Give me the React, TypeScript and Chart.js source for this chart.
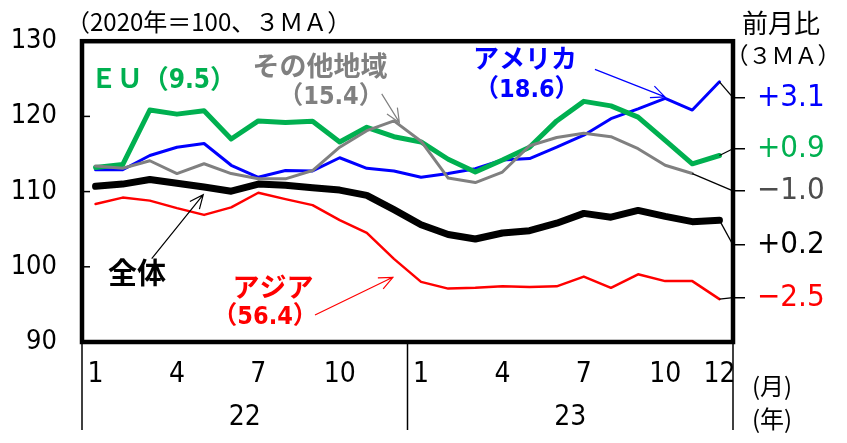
import React, { useEffect, useRef } from "react";
import { Chart, registerables } from "chart.js";

Chart.register(...registerables);

// ---- data ----
const months = [
  "2022-01", "2022-02", "2022-03", "2022-04", "2022-05", "2022-06",
  "2022-07", "2022-08", "2022-09", "2022-10", "2022-11", "2022-12",
  "2023-01", "2023-02", "2023-03", "2023-04", "2023-05", "2023-06",
  "2023-07", "2023-08", "2023-09", "2023-10", "2023-11", "2023-12",
];
const monthTickLabels = ["1", "", "", "4", "", "", "7", "", "", "10", "", "", "1", "", "", "4", "", "", "7", "", "", "10", "", "12"];
const yearLabels = ["22", "23"];

const total = [110.7, 111.0, 111.6, 111.1, 110.6, 110.05, 111.0, 110.85, 110.5, 110.2, 109.5, 107.6, 105.6, 104.3, 103.7, 104.5, 104.8, 105.8, 107.1, 106.6, 107.5, 106.7, 106.0, 106.2];
const asia = [108.35, 109.2, 108.8, 107.8, 106.9, 107.9, 109.85, 109.0, 108.2, 106.2, 104.5, 101.05, 98.0, 97.1, 97.2, 97.4, 97.3, 97.4, 98.7, 97.2, 99.0, 98.1, 98.1, 95.7];
const other = [113.4, 113.1, 114.1, 112.4, 113.7, 112.4, 111.7, 111.7, 112.8, 115.9, 118.1, 119.4, 116.7, 111.8, 111.2, 112.6, 116.1, 117.2, 117.75, 117.3, 115.7, 113.5, 112.4, null];
const eu = [113.2, 113.6, 120.85, 120.3, 120.75, 117.0, 119.4, 119.2, 119.35, 116.6, 118.55, 117.3, 116.6, 114.3, 112.6, 114.2, 115.9, 119.4, 122.0, 121.4, 119.9, 116.8, 113.7, 114.8];
const usa = [112.9, 112.9, 114.8, 115.9, 116.4, 113.5, 111.9, 112.8, 112.75, 114.5, 113.1, 112.75, 111.9, 112.4, 113.05, 114.2, 114.4, 115.9, 117.5, 119.7, 121.0, 122.4, 120.85, 124.6];

const leftTicks = [90, 100, 110, 120, 130];
const rightTickValues = [122.5, 115.7, 110.1, 102.9, 95.9];
const rightTickLabels = ["+3.1", "+0.9", "\u22121.0", "+0.2", "\u22122.5"];

// ---- styles ----
const GREEN = "#00B050";
const BLUE = "#0000FF";
const RED = "#FF0000";
const GRAY = "#808080";
const rightTickColors = [BLUE, GREEN, "#4D4D4D", "#000000", RED];

const NARROW = '"Liberation Sans Narrow", "DejaVu Sans", "Noto Sans CJK JP", sans-serif';
const JP = '"Noto Sans CJK JP", sans-serif';
const MIX = '"Liberation Sans Narrow", "DejaVu Sans", "Noto Sans CJK JP", sans-serif';

const seriesLabels = [
  { text: "ＥＵ（9.5）", i: 2.5, v: 124.7, color: GREEN, font: `bold condensed 26px ${MIX}` },
  { text: "その他地域", i: 8.27, v: 126.8, color: GRAY, font: `bold 27px ${JP}` },
  { text: "（15.4）", i: 8.68, v: 122.45, color: GRAY, font: `bold condensed 25px ${MIX}` },
  { text: "アメリカ", i: 15.83, v: 127.75, color: BLUE, font: `bold 26px ${JP}` },
  { text: "（18.6）", i: 15.9, v: 123.4, color: BLUE, font: `bold condensed 25px ${MIX}` },
  { text: "全体", i: 1.53, v: 99.14, color: "#000000", font: `bold 29px ${JP}` },
  { text: "アジア", i: 6.54, v: 97.4, color: RED, font: `bold 27px ${JP}` },
  { text: "（56.4）", i: 6.25, v: 93.2, color: RED, font: `bold condensed 25px ${MIX}` },
];

const arrows = [
  { from: [10.55, 123.0], to: [11.2, 119.2], color: GRAY },
  { from: [18.41, 126.25], to: [20.99, 122.6], color: BLUE },
  { from: [2.07, 101.1], to: [3.97, 109.6], color: "#000000" },
  { from: [8.09, 93.6], to: [10.96, 98.6], color: RED },
];

const leaderSeries = [usa, eu, other, total, asia];

function lastIndex(arr: (number | null)[]) {
  for (let k = arr.length - 1; k >= 0; k--) if (arr[k] !== null) return k;
  return -1;
}

const decorPlugin = {
  id: "decor",
  afterDraw(chart: any) {
    const ctx = chart.ctx as CanvasRenderingContext2D;
    const xs = chart.scales.x;
    const ys = chart.scales.y;
    const area = chart.chartArea;
    const px = (i: number) => xs.getPixelForValue(i);
    const py = (v: number) => ys.getPixelForValue(v);
    ctx.save();

    // leader lines from the last points to the right-axis ticks
    ctx.lineWidth = 1.3;
    ctx.strokeStyle = "#000";
    leaderSeries.forEach((s, k) => {
      const li = lastIndex(s);
      ctx.beginPath();
      ctx.moveTo(px(li), py(s[li] as number));
      ctx.lineTo(area.right, py(rightTickValues[k]));
      ctx.stroke();
    });

    // left inward tick marks
    ctx.lineWidth = 1.5;
    leftTicks.forEach((v) => {
      ctx.beginPath();
      ctx.moveTo(area.left, py(v));
      ctx.lineTo(area.left + 8, py(v));
      ctx.stroke();
    });

    // frame
    ctx.lineWidth = 4.5;
    ctx.strokeStyle = "#000";
    ctx.strokeRect(area.left, area.top, area.right - area.left, area.bottom - area.top);

    // year separators
    const mid = (px(11) + px(12)) / 2;
    ctx.lineWidth = 1.5;
    [area.left, mid, area.right].forEach((x) => {
      ctx.beginPath();
      ctx.moveTo(x, area.bottom);
      ctx.lineTo(x, area.bottom + 88);
      ctx.stroke();
    });

    // year labels
    ctx.fillStyle = "#000";
    ctx.textAlign = "center";
    ctx.textBaseline = "middle";
    ctx.font = `condensed 28px ${NARROW}`;
    ctx.fillText(yearLabels[0], (area.left + mid) / 2, area.bottom + 76);
    ctx.fillText(yearLabels[1], (mid + area.right) / 2, area.bottom + 76);

    // unit labels
    ctx.font = `24px ${JP}`;
    ctx.fillText("(月)", area.right + 39, area.bottom + 44);
    ctx.fillText("(年)", area.right + 39, area.bottom + 77);

    ctx.textAlign = "left";
    ctx.font = `24px ${JP}`;
    ctx.fillText("（2020年＝100、３ＭＡ）", area.left - 16, area.top - 19);
    ctx.textAlign = "center";
    ctx.font = `26px ${JP}`;
    ctx.fillText("前月比", area.right + 48, area.top - 18);
    ctx.font = `23px ${JP}`;
    ctx.fillText("（３ＭＡ）", area.right + 50, area.top + 14);

    // series labels
    seriesLabels.forEach((l) => {
      ctx.font = l.font;
      ctx.fillStyle = l.color;
      ctx.fillText(l.text, px(l.i), py(l.v));
    });

    // arrows
    arrows.forEach((a) => {
      const x0 = px(a.from[0]), y0 = py(a.from[1]);
      const x1 = px(a.to[0]), y1 = py(a.to[1]);
      const ang = Math.atan2(y1 - y0, x1 - x0);
      const hl = 15, ha = 0.42;
      ctx.strokeStyle = a.color;
      ctx.lineWidth = 1.2;
      ctx.beginPath();
      ctx.moveTo(x0, y0);
      ctx.lineTo(x1, y1);
      ctx.moveTo(x1 - hl * Math.cos(ang - ha), y1 - hl * Math.sin(ang - ha));
      ctx.lineTo(x1, y1);
      ctx.lineTo(x1 - hl * Math.cos(ang + ha), y1 - hl * Math.sin(ang + ha));
      ctx.stroke();
    });

    ctx.restore();
  },
};

export default function App() {
  const ref = useRef<HTMLCanvasElement | null>(null);
  useEffect(() => {
    if (!ref.current) return;
    const chart = new Chart(ref.current, {
      type: "line",
      data: {
        labels: months,
        datasets: [
          { label: "全体", data: total, borderColor: "#000", borderWidth: 7 },
          { label: "アジア", data: asia, borderColor: RED, borderWidth: 2.5 },
          { label: "その他地域", data: other, borderColor: GRAY, borderWidth: 3 },
          { label: "EU", data: eu, borderColor: GREEN, borderWidth: 5 },
          { label: "アメリカ", data: usa, borderColor: BLUE, borderWidth: 3 },
        ].map((d) => ({ ...d, pointRadius: 0, tension: 0, fill: false, borderJoinStyle: "round" as const, borderCapStyle: "round" as const })),
      },
      options: {
        animation: false,
        responsive: false,
        layout: { padding: { top: 40, left: 0, right: 0, bottom: 0 } },
        plugins: { legend: { display: false }, tooltip: { enabled: false } },
        scales: {
          x: {
            type: "category",
            offset: true,
            grid: { display: false, drawTicks: false },
            border: { display: false },
            ticks: {
              autoSkip: false,
              maxRotation: 0,
              padding: 16,
              color: "#000",
              font: { family: NARROW, size: 28, weight: "condensed" as any },
              callback: (_v: any, i: number) => monthTickLabels[i],
            },
            afterFit: (s: any) => { s.height = 101; },
          },
          y: {
            type: "linear",
            position: "left",
            min: 90,
            max: 130,
            grid: { display: false, drawTicks: false },
            border: { display: false },
            afterBuildTicks: (s: any) => { s.ticks = leftTicks.map((v) => ({ value: v })); },
            ticks: { padding: 25, color: "#000", font: { family: NARROW, size: 27, weight: "condensed" as any } },
            afterFit: (s: any) => { s.width = 82; },
          },
          y2: {
            type: "linear",
            position: "right",
            min: 90,
            max: 130,
            grid: { display: true, drawOnChartArea: false, drawTicks: true, tickLength: 12, color: "#000", lineWidth: 1.5 },
            border: { display: false },
            afterBuildTicks: (s: any) => { s.ticks = rightTickValues.map((v) => ({ value: v })); },
            ticks: {
              autoSkip: false,
              padding: 12,
              font: { family: NARROW, size: 31, weight: "condensed" as any },
              color: (c: any) => rightTickColors[c.index] || "#000",
              callback: (_v: any, i: number) => rightTickLabels[i],
            },
            afterFit: (s: any) => { s.width = 114; },
          },
        },
      },
      plugins: [decorPlugin],
    });
    return () => chart.destroy();
  }, []);
  return (
    <div style={{ position: "fixed", left: 0, top: 0, width: 847, height: 443, background: "#fff" }}>
      <canvas ref={ref} width={847} height={443} style={{ width: 847, height: 443 }} />
    </div>
  );
}
